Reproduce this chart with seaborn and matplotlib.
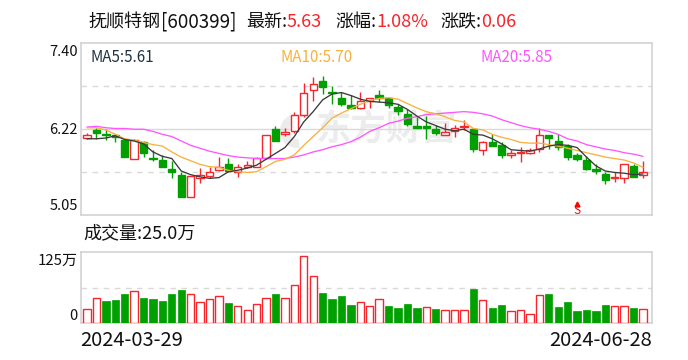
import matplotlib
matplotlib.use("Agg")
import matplotlib.pyplot as plt
from matplotlib.patches import Wedge
from matplotlib.transforms import Affine2D
import numpy as np
import pandas as pd
import seaborn as sns

sns.set_style("white")
plt.rcParams['font.family'] = ['Noto Sans CJK SC', 'DejaVu Sans']

open_p = [6.10,6.21,6.16,6.14,6.07,5.81,6.05,5.82,5.80,5.68,5.60,5.30,5.55,5.58,5.66,5.75,5.64,5.71,5.71,5.83,
          6.22,6.16,6.19,6.42,6.75,6.88,6.73,6.64,6.55,6.51,6.60,6.68,6.64,6.52,6.43,6.26,6.26,6.22,6.14,6.19,
          6.25,6.22,5.93,6.04,6.00,5.87,5.89,5.90,5.95,6.14,6.06,5.99,5.87,5.80,5.68,5.61,5.55,5.55,5.72,5.59]
high_p = [6.17,6.24,6.22,6.15,6.08,6.09,6.06,5.94,5.87,5.79,5.64,5.58,5.69,5.71,5.84,5.83,5.75,5.79,5.84,6.14,
          6.26,6.24,6.45,6.85,6.93,6.94,6.81,6.73,6.68,6.73,6.65,6.75,6.65,6.57,6.49,6.38,6.40,6.28,6.30,6.28,
          6.35,6.23,6.06,6.16,6.04,5.94,5.98,5.96,6.24,6.14,6.15,6.02,5.90,5.85,5.75,5.63,5.64,5.75,5.75,5.78]
low_p = [6.09,6.09,6.07,6.04,5.84,5.81,5.84,5.78,5.70,5.56,5.29,5.30,5.49,5.56,5.65,5.65,5.57,5.69,5.71,5.83,
         6.06,6.13,6.17,6.39,6.61,6.70,6.57,6.54,6.50,6.50,6.51,6.59,6.51,6.42,6.27,6.23,6.09,6.14,6.14,6.12,
         6.21,5.91,5.87,5.99,5.83,5.83,5.77,5.88,5.91,5.95,5.94,5.80,5.79,5.67,5.61,5.47,5.50,5.49,5.57,5.55]
close_p = [6.14,6.17,6.14,6.12,5.84,6.07,5.89,5.81,5.70,5.64,5.30,5.58,5.60,5.64,5.71,5.65,5.71,5.73,5.83,6.14,
           6.06,6.18,6.42,6.72,6.84,6.80,6.72,6.57,6.51,6.60,6.64,6.64,6.55,6.47,6.29,6.23,6.23,6.17,6.18,6.24,
           6.26,5.95,6.04,5.99,5.87,5.89,5.91,5.94,6.14,6.10,5.98,5.84,5.82,5.68,5.65,5.53,5.56,5.75,5.57,5.63]
ma5 = [6.09,6.09,6.10,6.13,6.08,6.06,6.02,5.91,5.85,5.82,5.65,5.60,5.57,5.55,5.56,5.64,5.66,5.69,5.73,5.81,
       5.89,5.97,6.12,6.32,6.46,6.62,6.70,6.72,6.68,6.63,6.60,6.59,6.58,6.56,6.49,6.40,6.32,6.27,6.22,6.20,
       6.22,6.15,6.14,6.09,6.02,5.94,5.93,5.92,5.95,5.99,6.01,6.00,5.97,5.84,5.72,5.65,5.63,5.62,5.60,5.61]
ma10 = [6.24,6.24,6.21,6.15,6.09,6.07,6.04,6.01,5.99,5.91,5.84,5.79,5.74,5.71,5.70,5.66,5.64,5.63,5.64,5.71,
        5.78,5.81,5.87,6.00,6.12,6.24,6.37,6.44,6.50,6.56,6.61,6.64,6.65,6.63,6.57,6.51,6.46,6.43,6.39,6.34,
        6.32,6.23,6.21,6.15,6.11,6.08,6.04,6.03,6.03,6.01,5.99,5.96,5.93,5.90,5.87,5.84,5.82,5.80,5.76,5.70]
ma20 = [6.25,6.26,6.24,6.23,6.23,6.22,6.22,6.19,6.15,6.12,6.06,6.00,5.96,5.92,5.89,5.86,5.84,5.83,5.82,5.82,
        5.82,5.82,5.84,5.87,5.91,5.94,5.98,6.01,6.05,6.11,6.19,6.24,6.30,6.33,6.37,6.39,6.42,6.43,6.44,6.45,
        6.46,6.45,6.43,6.40,6.35,6.31,6.27,6.24,6.22,6.19,6.15,6.09,6.06,6.01,5.98,5.95,5.93,5.90,5.88,5.85]
volume = [24.4,45,39,41,51,56,44,42,39,51,58,51,37,42,47,35,30,23,33,45,
          51,44,66,117,82,53,42,48,32,37,30,42,30,27,34,27,28,25,23,24,
          24,60,40,27,32,21,23,17,49,51,28,37,22,23,22,32,31,30,27,25]
volume_dir = list("uu" "ddd" "u" "dddd"
                  "d" "uuuu" "d" "uuuu"
                  "d" "uuuu" "dddd" "u"
                  "uu" "dddd" "u" "d" "uu"
                  "u" "d" "u" "dd" "uuuu" "d"
                  "dddddd" "uu" "d" "u")
price_ticks = [7.40, 6.22, 5.05]
start_date = "2024-03-29"
end_date = "2024-06-28"

RED = "#f5262c"
GREEN = "#00a000"
W, H = 688, 360
idx = np.arange(len(open_p))
is_up = np.array(close_p) >= np.array(open_p)
df = pd.DataFrame({"i": idx, "ma5": ma5, "ma10": ma10, "ma20": ma20, "vol": volume, "dir": volume_dir})

fig = plt.figure(figsize=(W / 100, H / 100), dpi=100, facecolor="white")
def axes_px(l, t, r, b):
    return fig.add_axes([l / W, 1 - b / H, (r - l) / W, (b - t) / H])
ax = axes_px(80.5, 42.7, 651.5, 215)
axv = axes_px(80.5, 251.7, 651.5, 323.3)
ax.set_facecolor("none")
ax.set_zorder(2)
axv.set_zorder(2)

# watermark sits under the transparent price axes
WM = "#ececec"
fig.text(316 / W, 1 - 130 / H, "东方财富", fontsize=25.5, fontweight="bold", color=WM,
         va="center", ha="left", zorder=0.5)
px = Affine2D().scale(1, -1).translate(0, H)
fig.add_artist(Wedge((297, 131), 17, 80, 290, width=9, facecolor=WM, edgecolor="none",
                     transform=px, zorder=0.5))

# candles
for i in idx:
    c = RED if is_up[i] else GREEN
    top, bot = max(open_p[i], close_p[i]), min(open_p[i], close_p[i])
    ax.vlines(i, low_p[i], high_p[i], color=c, lw=1, zorder=2)
    ax.bar(i, max(top - bot, 0.012), bottom=bot, width=0.78, facecolor="white" if is_up[i] else c,
           edgecolor=c, linewidth=1, zorder=3)

for col, colr in [("ma20", "#ff55ff"), ("ma10", "#f7b23e"), ("ma5", "#3a3a3a")]:
    sns.lineplot(data=df, x="i", y=col, color=colr, lw=0.95, ax=ax, legend=False, zorder=4)

ax.set_xlim(-0.69, 59.9)
ax.set_ylim(5.05, 7.40)
for v in [6.8125, 5.6375]:
    ax.axhline(v, color="#d9d9d9", lw=1, ls=(0, (4, 4)), zorder=1)
ax.axhline(6.225, color="#d9d9d9", lw=1, zorder=1)

# volume
sns.barplot(data=df, x="i", y="vol", hue="dir", palette={"u": RED, "d": GREEN},
            native_scale=True, dodge=False, width=0.78, saturation=1, legend=False, ax=axv, zorder=3)
for cont, name in zip(axv.containers, df["dir"].unique()):
    for p in cont.patches:
        if name == "u":
            p.set_edgecolor(RED); p.set_facecolor("white"); p.set_linewidth(1)
        else:
            p.set_edgecolor(GREEN); p.set_linewidth(0.5)
axv.set_xlim(-0.69, 59.9)
axv.set_ylim(0, 125)
axv.axhline(62.5, color="#d9d9d9", lw=1, ls=(0, (4, 4)), zorder=1)

for a in (ax, axv):
    a.set_xticks([]); a.set_yticks([]); a.set_xlabel(""); a.set_ylabel("")
    for s in a.spines.values():
        s.set_color("#d2d2d8"); s.set_linewidth(1.2); s.set_visible(True)

TXT = "#111111"
def t(x, y, s, size=12, color=TXT, ha="left", **kw):
    fig.text(x / W, 1 - y / H, s, fontsize=size, color=color, ha=ha, va="center", zorder=3, **kw)

t(88, 22, "抚顺特钢", 13)
t(161, 22, "[600399]", 13.6)
t(246, 22, "最新:", 13)
t(287, 22, "5.63", 13, RED)
t(335, 22, "涨幅:", 13)
t(376, 22, "1.08%", 13, RED)
t(440, 22, "涨跌:", 13)
t(481, 22, "0.06", 13, RED)

t(90, 57, "MA5:5.61", 10.9, "#223344")
t(280, 57, "MA10:5.70", 10.9, "#f7b23e")
t(480, 57, "MA20:5.85", 10.9, "#ff55ff")

t(78, 52, f"{price_ticks[0]:.2f}", 10.5, ha="right")
t(78, 130, f"{price_ticks[1]:.2f}", 10.5, ha="right")
t(78, 206, f"{price_ticks[2]:.2f}", 10.5, ha="right")
t(83, 233, "成交量:25.0万", 13)
t(78, 261, "125万", 10.8, ha="right")
t(78, 316, "0", 10.5, ha="right")
t(80.5, 341, start_date, 14.5)
t(652, 341, end_date, 14.5, ha="right")

# S marker
ax.annotate("S", (52, 5.05), xytext=(0, 3), textcoords="offset points", color="red",
            fontsize=8.5, ha="center", va="center", zorder=5)
ax.plot([52], [5.195], marker="^", color="red", ms=3.5, zorder=5, ls="none")

fig.savefig("out.png", dpi=100)
